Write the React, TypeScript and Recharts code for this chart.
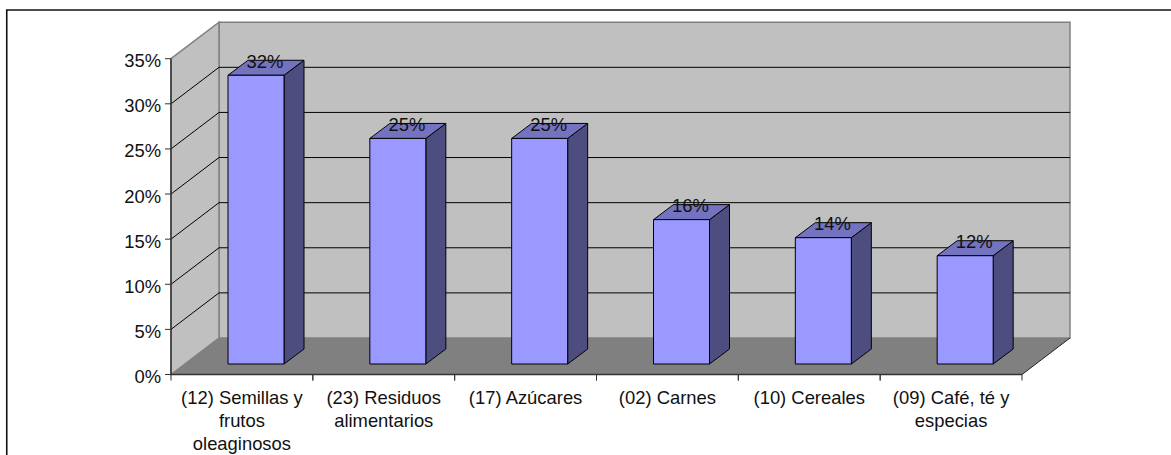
import { BarChart, Bar, XAxis, YAxis, CartesianGrid, LabelList } from "recharts"

const categories = [
  ["(12) Semillas y", "frutos", "oleaginosos"],
  ["(23) Residuos", "alimentarios"],
  ["(17) Azúcares"],
  ["(02) Carnes"],
  ["(10) Cereales"],
  ["(09) Café, té y", "especias"],
]
const shares = [32, 25, 25, 16, 14, 12]
const yTicks = [0, 5, 10, 15, 20, 25, 30, 35]

const data = categories.map((lines, i) => ({ name: lines.join(" "), lines, share: shares[i] }))

const WIDTH = 1171
const HEIGHT = 455
const FONT = "'Liberation Sans', Arial, sans-serif"
const FONT_SIZE = 18.4
const TEXT = "#111"

// front plane of the plot box
const PLOT_LEFT = 171
const PLOT_RIGHT = 1022
const PLOT_TOP = 58.7
const PLOT_BOTTOM = 374.5
const BAND = (PLOT_RIGHT - PLOT_LEFT) / categories.length

// how far the box recedes
const DEPTH_X = 48
const DEPTH_Y = 36.5
// bars sit inside that box: pushed back, and with their own shallower depth
const BAR_SHIFT_X = 14
const BAR_SHIFT_Y = 10.5
const BAR_DEPTH_X = 20
const BAR_DEPTH_Y = 15

const WALL = "#c0c0c0"
const FLOOR = "#808080"

// frame and box walls go behind the chart's transparent svg
function Backdrop() {
  const l = PLOT_LEFT
  const r = PLOT_RIGHT
  const t = PLOT_TOP
  const b = PLOT_BOTTOM
  const dx = DEPTH_X
  const dy = DEPTH_Y
  return (
    <svg width={WIDTH} height={HEIGHT} style={{ position: "absolute", left: 0, top: 0 }}>
      <polyline points={`6.75,${HEIGHT} 6.75,10 ${WIDTH},10`} fill="none" stroke="#111" strokeWidth={1.6} />
      <polygon
        points={`${l + dx},${t - dy} ${r + dx},${t - dy} ${r + dx},${b - dy} ${l + dx},${b - dy}`}
        fill={WALL}
        stroke={FLOOR}
        strokeWidth={1.5}
      />
      <polygon
        points={`${l},${t} ${l + dx},${t - dy} ${l + dx},${b - dy} ${l},${b}`}
        fill={WALL}
        stroke={FLOOR}
        strokeWidth={1.5}
      />
      <polygon points={`${l},${b} ${l + dx},${b - dy} ${r + dx},${b - dy} ${r},${b}`} fill={FLOOR} />
      <line x1={r} y1={b} x2={r + dx} y2={b - dy} stroke="#222" />
    </svg>
  )
}

// each gridline runs up the side wall, then across the back wall
function WallLine(props: any) {
  const { x1, x2, y1 } = props
  if (y1 >= PLOT_BOTTOM - 1 || y1 <= PLOT_TOP + 1) return <g key={props.key} />
  return (
    <polyline
      key={props.key}
      points={`${x1},${y1} ${x1 + DEPTH_X},${y1 - DEPTH_Y} ${x2 + DEPTH_X},${y1 - DEPTH_Y}`}
      fill="none"
      stroke="#000"
      strokeWidth={1}
    />
  )
}

function Bar3D(props: any) {
  const x = props.x + BAR_SHIFT_X
  const y = props.y - BAR_SHIFT_Y
  const { width, height } = props
  const r = x + width
  const b = y + height
  return (
    <g stroke="#000" strokeWidth={1} strokeLinejoin="round">
      <polygon
        points={`${r},${y} ${r + BAR_DEPTH_X},${y - BAR_DEPTH_Y} ${r + BAR_DEPTH_X},${b - BAR_DEPTH_Y} ${r},${b}`}
        fill="#4d4d80"
      />
      <polygon
        points={`${x},${y} ${x + BAR_DEPTH_X},${y - BAR_DEPTH_Y} ${r + BAR_DEPTH_X},${y - BAR_DEPTH_Y} ${r},${y}`}
        fill="#7373bf"
      />
      <rect x={x} y={y} width={width} height={height} fill="#9999ff" />
    </g>
  )
}

function ShareLabel(props: any) {
  const { x, y, width, value } = props
  return (
    <text
      x={x + width / 2 + BAR_SHIFT_X + BAR_DEPTH_X / 2 - 1}
      y={y - BAR_SHIFT_Y - 7.5}
      textAnchor="middle"
      fontFamily={FONT}
      fontSize={FONT_SIZE}
      fill={TEXT}
    >
      {value}%
    </text>
  )
}

function CategoryTick(props: any) {
  const { x, payload } = props
  const lines = categories[payload.index]
  return (
    <g>
      <line x1={x - BAND / 2} y1={PLOT_BOTTOM} x2={x - BAND / 2} y2={PLOT_BOTTOM + 6} stroke="#333" />
      <line x1={x + BAND / 2} y1={PLOT_BOTTOM} x2={x + BAND / 2} y2={PLOT_BOTTOM + 6} stroke="#333" />
      <text textAnchor="middle" fontFamily={FONT} fontSize={FONT_SIZE} fill={TEXT}>
        {lines.map((line, i) => (
          <tspan key={line} x={x} y={PLOT_BOTTOM + 29 + i * 23.3}>
            {line}
          </tspan>
        ))}
      </text>
    </g>
  )
}

function PercentTick(props: any) {
  const { x, y, payload } = props
  return (
    <text x={x} y={y + 8.5} textAnchor="end" fontFamily={FONT} fontSize={FONT_SIZE} fill={TEXT}>
      {payload.value}%
    </text>
  )
}

export default function App() {
  return (
    <div style={{ position: "absolute", left: 0, top: 0, width: WIDTH, height: HEIGHT, background: "#fff", overflow: "hidden" }}>
      <Backdrop />
      <BarChart
        width={WIDTH}
        height={HEIGHT}
        data={data}
        margin={{ top: PLOT_TOP, right: WIDTH - PLOT_RIGHT, bottom: 0, left: 0 }}
        barSize={56}
        style={{ position: "absolute", left: 0, top: 0 }}
      >
        <CartesianGrid vertical={false} horizontal={(p: any) => <WallLine {...p} />} />
        <XAxis
          dataKey="name"
          interval={0}
          height={HEIGHT - PLOT_BOTTOM}
          axisLine={{ stroke: "#333", strokeWidth: 1.5 }}
          tickLine={false}
          tick={(p: any) => <CategoryTick {...p} />}
        />
        <YAxis
          domain={[0, 35]}
          ticks={yTicks}
          width={PLOT_LEFT}
          interval={0}
          axisLine={{ stroke: "#333", strokeWidth: 1.5 }}
          tickLine={{ stroke: "#333" }}
          tickSize={6}
          tickMargin={4}
          tick={(p: any) => <PercentTick {...p} />}
        />
        <Bar dataKey="share" shape={Bar3D} isAnimationActive={false}>
          <LabelList dataKey="share" content={ShareLabel} />
        </Bar>
      </BarChart>
    </div>
  )
}
